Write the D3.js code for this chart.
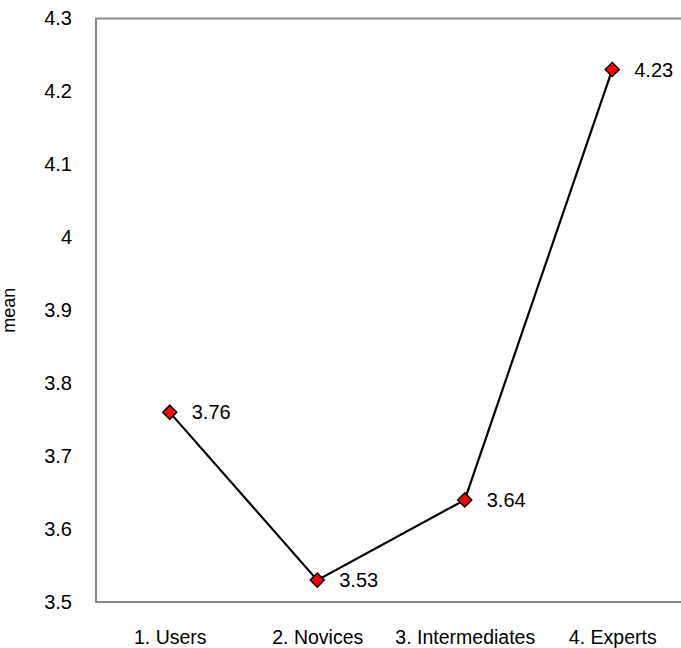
<!DOCTYPE html>
<html>
<head>
<meta charset="utf-8">
<script src="https://cdn.jsdelivr.net/npm/d3@7"></script>
<style>
  html, body { margin: 0; padding: 0; background: #fff; }
  svg { display: block; }
  text { font-family: "Liberation Sans", Arial, Helvetica, sans-serif; fill: #000; }
</style>
</head>
<body>
<svg id="chart" width="681" height="648"></svg>
<script>
// Mean score per experience group
const categories = ["1. Users", "2. Novices", "3. Intermediates", "4. Experts"];
const means = [3.76, 3.53, 3.64, 4.23];
const yTicks = [3.5, 3.6, 3.7, 3.8, 3.9, 4, 4.1, 4.2, 4.3];
const yLabel = "mean";

const svg = d3.select("#chart");
const plotL = 96, plotT = 18.5, plotB = 602, plotR = 686;

const x = d3.scalePoint().domain(categories).range([plotL, plotR]).padding(0.5);
const y = d3.scaleLinear().domain([3.5, 4.3]).range([plotB, plotT]);

// Frame: left, top and bottom edges
svg.append("path")
  .attr("d", `M${plotR},${plotT}H${plotL}V${plotB}H${plotR}`)
  .attr("stroke", "#888").attr("stroke-width", 2).attr("fill", "none");

// Y axis tick labels
const yAxis = svg.append("g").attr("transform", `translate(${plotL},0)`)
  .call(d3.axisLeft(y).tickValues(yTicks).tickFormat(d3.format("~g")).tickSize(0).tickPadding(24));
yAxis.select(".domain").remove();
yAxis.selectAll("text").style("font-size", "20px");
yAxis.attr("font-family", null);

// X axis category labels
const xAxis = svg.append("g").attr("transform", `translate(0,${plotB})`)
  .call(d3.axisBottom(x).tickSize(0).tickPadding(28));
xAxis.select(".domain").remove();
xAxis.selectAll("text").style("font-size", "19.5px");
xAxis.attr("font-family", null);

// Y axis title
svg.append("text")
  .attr("transform", `translate(15,${(plotT + plotB) / 2}) rotate(-90)`)
  .attr("text-anchor", "middle")
  .style("font-size", "18px")
  .text(yLabel);

// Line
const pts = categories.map((c, i) => ({ c, v: means[i] }));
svg.append("path")
  .datum(pts)
  .attr("fill", "none")
  .attr("stroke", "#000")
  .attr("stroke-width", 2.2)
  .attr("d", d3.line().x(d => x(d.c)).y(d => y(d.v)));

// Diamond markers
const diamond = d3.symbol().type(d3.symbolSquare).size(98)();
svg.append("g").selectAll("path")
  .data(pts).join("path")
  .attr("d", diamond)
  .attr("transform", d => `translate(${x(d.c)},${y(d.v)}) rotate(45)`)
  .attr("fill", "#f00")
  .attr("stroke", "#000")
  .attr("stroke-width", 1.5);

// Value labels
svg.append("g").selectAll("text")
  .data(pts).join("text")
  .attr("x", d => x(d.c) + 22)
  .attr("y", d => y(d.v))
  .attr("dy", "0.35em")
  .style("font-size", "20px")
  .text(d => d3.format(".2f")(d.v));
</script>
</body>
</html>
